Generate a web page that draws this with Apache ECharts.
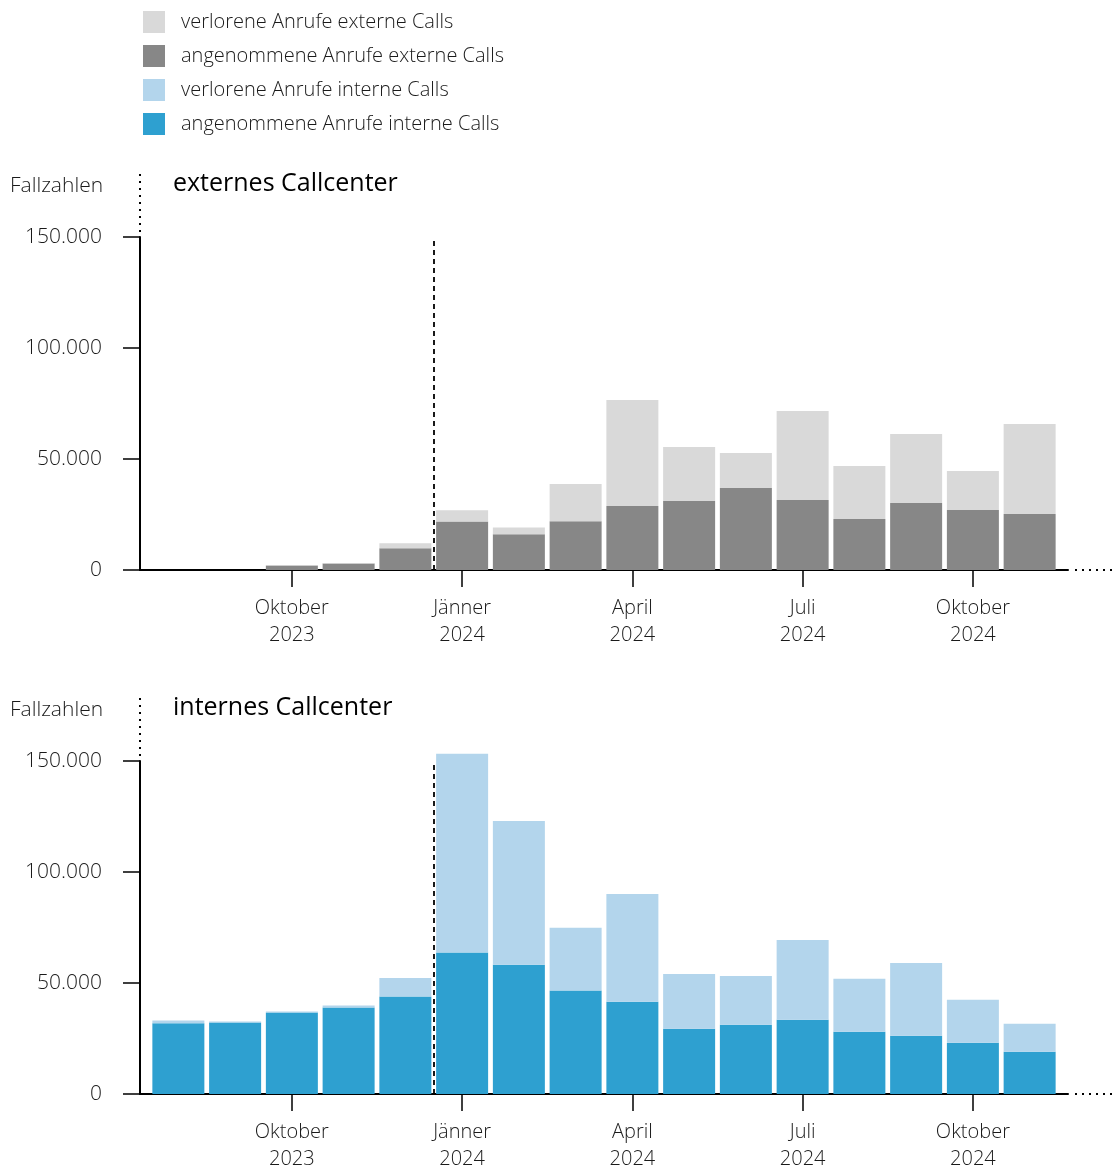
<!DOCTYPE html>
<html><head><meta charset="utf-8">
<script src="https://cdn.jsdelivr.net/npm/echarts@6/dist/echarts.min.js"></script>
<style>html,body{margin:0;padding:0;background:#fff}#c{width:1116px;height:1169px}</style>
</head><body><div id="c"></div>
<script>
const months = ['Aug 2023','Sep 2023','Okt 2023','Nov 2023','Dez 2023','Jan 2024','Feb 2024','Mär 2024','Apr 2024','Mai 2024','Jun 2024','Jul 2024','Aug 2024','Sep 2024','Okt 2024','Nov 2024'];
const tickIndex = [2, 5, 8, 11, 14];
const tickLabels = ['Oktober\n2023', 'Jänner\n2024', 'April\n2024', 'Juli\n2024', 'Oktober\n2024'];
const yTicks = [0, 50000, 100000, 150000];
// externes Callcenter
const extAngenommen = [0, 0, 2000, 2900, 9800, 21900, 16100, 22000, 28800, 31100, 36900, 31500, 23000, 30200, 27000, 25200];
const extVerloren   = [0, 0, 300, 300, 2200, 5000, 3100, 16700, 47800, 24300, 15800, 40100, 23800, 31100, 17600, 40600];
// internes Callcenter
const intAngenommen = [31900, 32200, 36700, 39000, 43900, 63700, 58200, 46600, 41500, 29400, 31200, 33400, 28000, 26200, 23100, 19000];
const intVerloren   = [1200, 500, 500, 900, 8300, 89600, 64800, 28300, 48600, 24700, 22000, 36000, 23900, 32800, 19300, 12600];
const splitAt = 4.5; // Übergang Dez 2023 / Jänner 2024

const FONT = 'Open Sans';
const TXT = '#1a1a1a';
const C = {extLost:'#d9d9d9', extOk:'#878787', intLost:'#b3d5ec', intOk:'#2ea0d0'};
const names = ['verlorene Anrufe externe Calls','angenommene Anrufe externe Calls','verlorene Anrufe interne Calls','angenommene Anrufe interne Calls'];

const fmt = v => String(v).replace(/\B(?=(\d{3})+(?!\d))/g, '.');
// value first, month index second (so the value dimension is the stacked one)
const rows = arr => arr.map((v, i) => [v, i]);

function xAxis(gi){
  return {
    type:'value', gridIndex:gi, min:-0.676, max:15.676,
    splitLine:{show:false},
    axisLine:{show:true, onZero:false, lineStyle:{color:'#000', width:2}},
    axisTick:{show:true, length:17, lineStyle:{color:'#000', width:1.5}, customValues: tickIndex},
    axisLabel:{show:true, customValues: tickIndex, margin:25, color:TXT, fontFamily:FONT, fontSize:20, fontWeight:300, lineHeight:27,
      formatter: v => { const k = tickIndex.indexOf(Math.round(v)); return k >= 0 ? tickLabels[k] : ''; }}
  };
}
function yAxis(gi){
  return {
    type:'value', gridIndex:gi, min:0, max:150000, interval:50000,
    splitLine:{show:false},
    axisLine:{show:true, onZero:false, lineStyle:{color:'#000', width:2}},
    axisTick:{show:true, length:17, lineStyle:{color:'#000', width:1.5}},
    axisLabel:{margin:38, color:TXT, fontFamily:FONT, fontSize:21, fontWeight:300, formatter: v => fmt(v)}
  };
}
function bar(name, gi, stack, data, color, withLine){
  const s = {name, type:'bar', xAxisIndex:gi, yAxisIndex:gi, stack, barWidth:52, clip:false,
    encode:{x:1, y:0},
    itemStyle:{color}, data: rows(data), emphasis:{disabled:true}};
  if (withLine) s.markLine = {silent:true, symbol:'none', label:{show:false},
    lineStyle:{color:'#000', type:[5,4], width:1.8}, data:[{xAxis: splitAt}]};
  return s;
}
const dotV = (y1, y2) => ({type:'line', shape:{x1:140, y1, x2:140, y2}, style:{stroke:'#000', lineWidth:2, lineDash:[2,5]}});
const dotH = (y) => ({type:'line', shape:{x1:1075, y1:y, x2:1116, y2:y}, style:{stroke:'#000', lineWidth:2, lineDash:[2,5]}});

const chart = echarts.init(document.getElementById('c'));
chart.setOption({
  animation:false,
  textStyle:{fontFamily:FONT},
  title:[
    {text:'externes Callcenter', left:168, top:166, textStyle:{fontFamily:FONT, fontSize:25, fontWeight:'normal', color:'#000'}},
    {text:'Fallzahlen', left:5, top:171, textStyle:{fontFamily:FONT, fontSize:21, fontWeight:300, color:TXT}},
    {text:'internes Callcenter', left:168, top:690, textStyle:{fontFamily:FONT, fontSize:25, fontWeight:'normal', color:'#000'}},
    {text:'Fallzahlen', left:5, top:695, textStyle:{fontFamily:FONT, fontSize:21, fontWeight:300, color:TXT}}
  ],
  legend:{orient:'vertical', left:138, top:6, itemWidth:22, itemHeight:22, itemGap:12, icon:'rect',
    selectedMode:false, data:names,
    textStyle:{fontFamily:FONT, fontSize:20, fontWeight:300, color:TXT, padding:[0,0,0,11]}},
  grid:[
    {left:140, right:48, top:237, height:333, outerBoundsMode:'none'},
    {left:140, right:48, top:761, height:333, outerBoundsMode:'none'}
  ],
  xAxis:[xAxis(0), xAxis(1)],
  yAxis:[yAxis(0), yAxis(1)],
  series:[
    bar(names[1], 0, 'ext', extAngenommen, C.extOk, true),
    bar(names[0], 0, 'ext', extVerloren, C.extLost, false),
    bar(names[3], 1, 'int', intAngenommen, C.intOk, true),
    bar(names[2], 1, 'int', intVerloren, C.intLost, false)
  ],
  graphic:[dotV(174, 232), dotV(698, 756), dotH(570), dotH(1094)]
});
</script></body></html>
